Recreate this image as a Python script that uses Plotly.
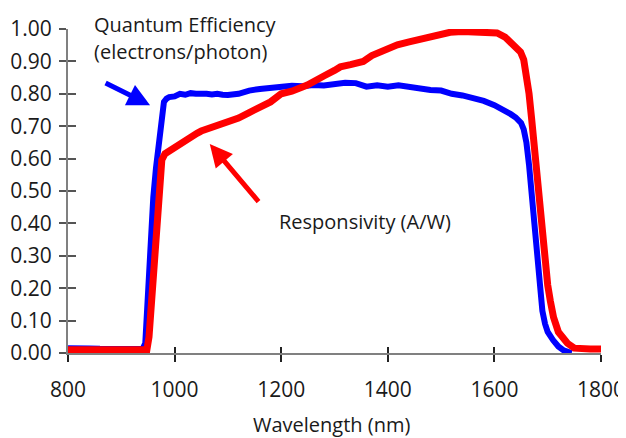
import plotly.graph_objects as go

# Quantum efficiency (electrons/photon)
wl_qe = [800, 820, 840, 860, 880, 900, 920, 940, 945, 950, 955, 960, 965, 970, 975,
         980, 985, 990, 1000, 1010, 1020, 1030, 1040, 1050, 1060, 1070, 1080, 1090,
         1100, 1120, 1140, 1160, 1180, 1200, 1220, 1240, 1260, 1280, 1300, 1320,
         1340, 1360, 1380, 1400, 1420, 1440, 1460, 1480, 1500, 1520, 1540, 1560,
         1580, 1600, 1620, 1630, 1640, 1650, 1655, 1660, 1665, 1670, 1675, 1680,
         1685, 1690, 1695, 1700, 1710, 1720, 1730, 1740, 1745]
qe = [0.015, 0.016, 0.014, 0.013, 0.012, 0.012, 0.012, 0.012, 0.03, 0.20, 0.37,
      0.48, 0.57, 0.645, 0.73, 0.775, 0.785, 0.79, 0.792, 0.800, 0.797, 0.802,
      0.800, 0.802, 0.800, 0.798, 0.800, 0.797, 0.796, 0.800, 0.810, 0.815,
      0.818, 0.820, 0.825, 0.823, 0.827, 0.826, 0.830, 0.834, 0.833, 0.822,
      0.826, 0.822, 0.826, 0.820, 0.818, 0.812, 0.810, 0.800, 0.795, 0.787,
      0.778, 0.765, 0.750, 0.738, 0.727, 0.710, 0.690, 0.650, 0.580, 0.490,
      0.390, 0.290, 0.200, 0.130, 0.090, 0.065, 0.040, 0.020, 0.008, 0.002, 0.0]

# Responsivity (A/W)
wl_resp = [800, 820, 840, 860, 880, 900, 920, 940, 948, 952, 958, 963, 967, 972,
           976, 982, 991, 1000, 1010, 1020, 1030, 1042, 1050, 1060, 1070, 1080,
           1090, 1104, 1120, 1140, 1160, 1180, 1200, 1220, 1249, 1260, 1280, 1300,
           1311, 1330, 1340, 1354, 1370, 1380, 1400, 1418, 1440, 1460, 1485, 1500,
           1517, 1540, 1560, 1574, 1590, 1605, 1620, 1630, 1640, 1649, 1655, 1660,
           1665, 1670, 1675, 1680, 1685, 1690, 1695, 1700, 1705, 1711, 1720, 1730,
           1737, 1750, 1767, 1780, 1800]
resp = [0.010, 0.010, 0.010, 0.010, 0.010, 0.010, 0.010, 0.010, 0.010, 0.05,
        0.195, 0.33, 0.45, 0.54, 0.596, 0.615, 0.625, 0.635, 0.648, 0.655, 0.665,
        0.678, 0.685, 0.690, 0.698, 0.700, 0.706, 0.713, 0.725, 0.742, 0.760,
        0.775, 0.800, 0.808, 0.827, 0.835, 0.855, 0.872, 0.883, 0.890, 0.895,
        0.900, 0.918, 0.925, 0.935, 0.951, 0.960, 0.968, 0.978, 0.985, 0.990,
        0.992, 0.991, 0.991, 0.993, 0.988, 0.975, 0.960, 0.948, 0.929, 0.905,
        0.860, 0.800, 0.720, 0.630, 0.540, 0.450, 0.360, 0.280, 0.210, 0.160,
        0.110, 0.065, 0.040, 0.030, 0.015, 0.012, 0.012, 0.012]

x_ticks = [800, 1000, 1200, 1400, 1600, 1800]
y_ticks = [0.0, 0.1, 0.2, 0.3, 0.4, 0.5, 0.6, 0.7, 0.8, 0.9, 1.0]
y_labels = ["%.2f" % v for v in y_ticks]

FONT = "Open Sans"
TXT = "#1a1a1a"

fig = go.Figure()
fig.add_trace(go.Scatter(x=wl_qe, y=qe, mode="lines",
                         line=dict(color="#0000ff", width=6), showlegend=False))
# red curve on the overlay axes (which draw the inner half of the crossing ticks)
fig.add_trace(go.Scatter(x=wl_resp, y=resp, mode="lines", xaxis="x2", yaxis="y2",
                         line=dict(color="#ff0000", width=7), showlegend=False))

# page body has an 8px margin, so the figure is offset by 8px
fig.update_layout(
    width=626, height=430,
    margin=dict(l=60, r=33, t=21, b=85, autoexpand=False),
    paper_bgcolor="white", plot_bgcolor="white",
    font=dict(family=FONT, size=20, color=TXT),
    xaxis=dict(range=[800, 1800], tickvals=x_ticks, ticks="outside", ticklen=7,
               tickwidth=1.5, tickcolor="#222", showline=True, linecolor="#808080",
               linewidth=2, showgrid=False, zeroline=False, ticklabelstandoff=10,
               automargin=False, tickfont=dict(size=21, color=TXT)),
    yaxis=dict(range=[0, 1], tickvals=y_ticks, ticktext=y_labels, ticks="outside",
               ticklen=7, tickwidth=1.5, tickcolor="#555", showline=True,
               linecolor="#808080", linewidth=2, showgrid=False, zeroline=False,
               ticklabelstandoff=3, automargin=False, tickfont=dict(size=21, color=TXT)),
    xaxis2=dict(range=[800, 1800], tickvals=x_ticks, ticks="inside", ticklen=6,
                tickwidth=1.5, tickcolor="#222", showticklabels=False, overlaying="x",
                anchor="y2", side="bottom", showgrid=False, zeroline=False,
                showline=False, automargin=False),
    yaxis2=dict(range=[0, 1], tickvals=y_ticks, ticks="inside", ticklen=8,
                tickwidth=1.5, tickcolor="#555", showticklabels=False, overlaying="y",
                anchor="x2", side="left", showgrid=False, zeroline=False,
                showline=False, automargin=False),
)

ann_font = dict(family=FONT, size=20, color=TXT)
fig.add_annotation(x=0.045, y=1.015, xref="paper", yref="paper", text="Quantum Efficiency",
                   showarrow=False, xanchor="left", yanchor="middle", font=ann_font)
fig.add_annotation(x=0.045, y=0.932, xref="paper", yref="paper", text="(electrons/photon)",
                   showarrow=False, xanchor="left", yanchor="middle", font=ann_font)
fig.add_annotation(x=0.392, y=0.407, xref="paper", yref="paper", text="Responsivity (A/W)",
                   showarrow=False, xanchor="left", yanchor="middle", font=ann_font)
fig.add_annotation(x=0.494, y=-0.221, xref="paper", yref="paper", text="Wavelength (nm)",
                   showarrow=False, xanchor="center", yanchor="middle", font=ann_font)

# arrows
fig.add_annotation(x=954, y=0.765, xref="x", yref="y", ax=-46, ay=-23, text="",
                   showarrow=True, arrowhead=2, arrowsize=0.9, arrowwidth=5,
                   arrowcolor="#0000ff")
fig.add_annotation(x=1066, y=0.645, xref="x", yref="y", ax=50, ay=59, text="",
                   showarrow=True, arrowhead=2, arrowsize=0.9, arrowwidth=5,
                   arrowcolor="#ff0000")

fig.write_html("out.html")
